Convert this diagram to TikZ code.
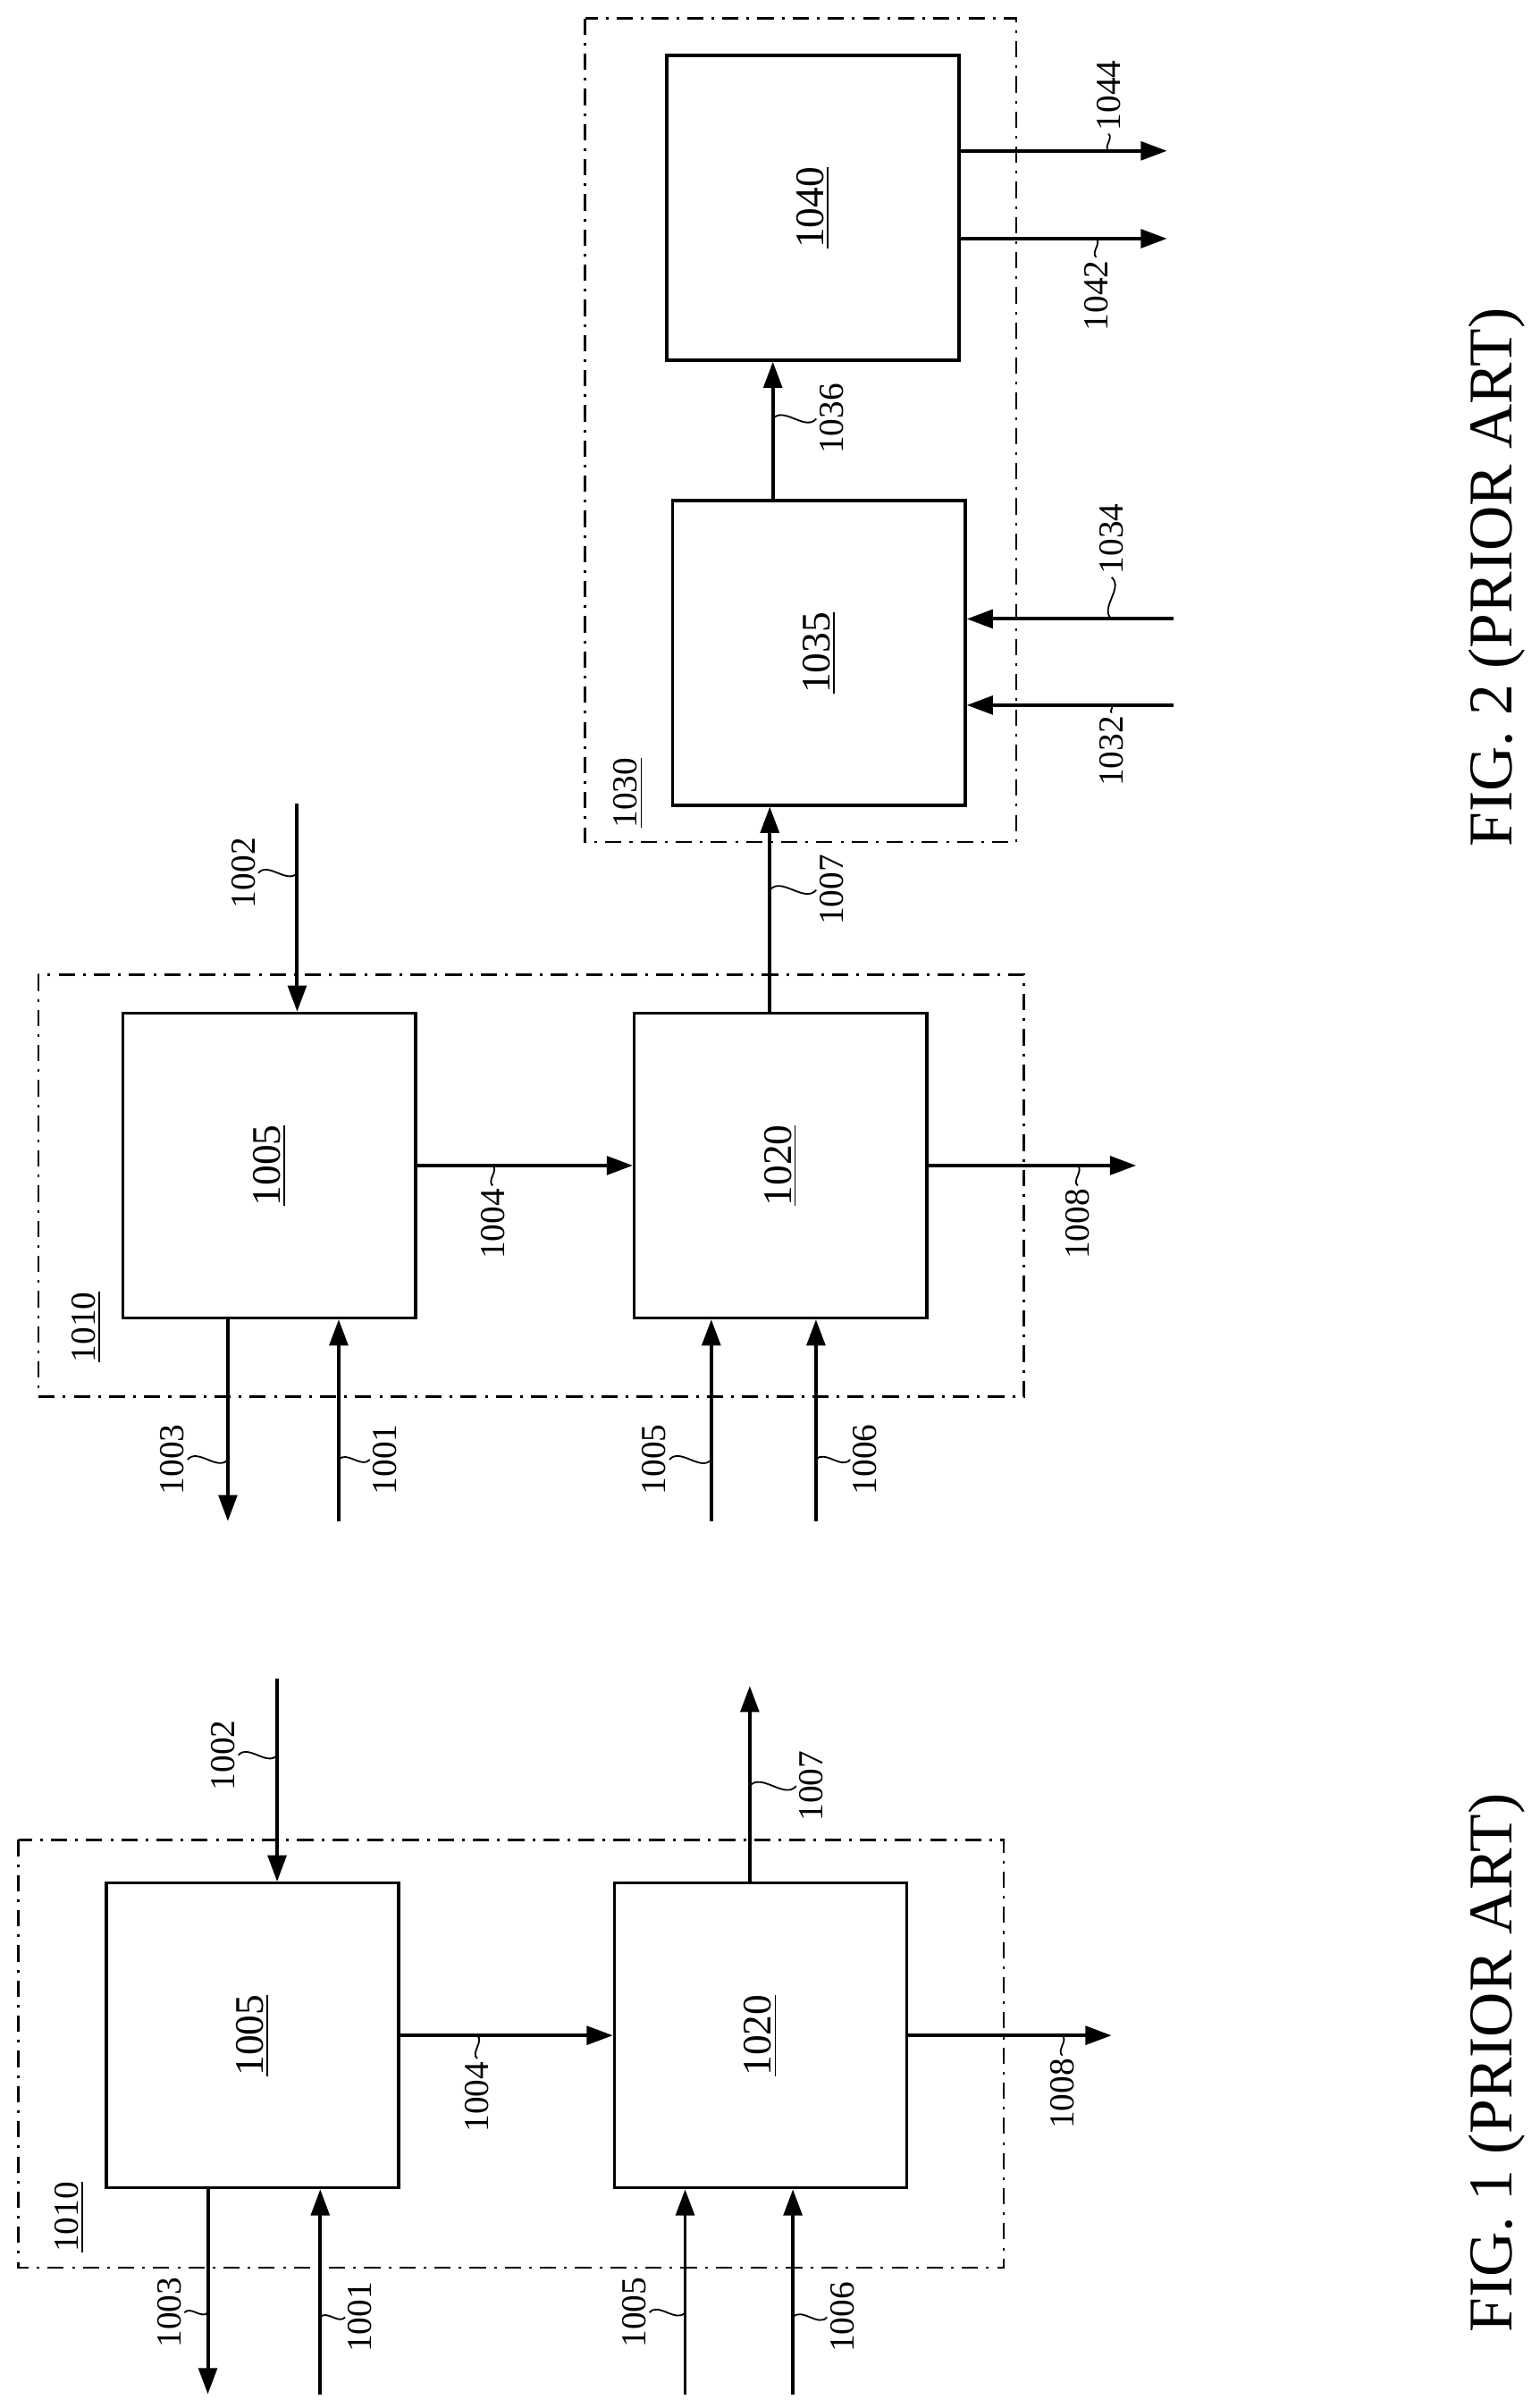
\documentclass[tikz,border=0pt]{standalone}
\usepackage{fontspec}
\setmainfont{Liberation Serif}
\usetikzlibrary{arrows.meta}

\begin{document}
\begin{tikzpicture}[x=0.02cm, y=-0.02cm,
  box/.style={draw, line width=1.1pt, minimum width=3.8cm, minimum height=3.96cm},
  grp/.style={draw, dash pattern=on 6pt off 3pt on 1pt off 3pt, line width=0.8pt},
  arr/.style={-{Triangle[length=3.4mm,width=2.4mm]}, line width=1.3pt},
  num/.style={rotate=90, inner sep=1pt, font=\fontsize{13}{13}\selectfont},
  blk/.style={rotate=90, font=\fontsize{15}{15}\selectfont},
  lead/.style={line width=0.6pt, relative, out=50, in=230},
  figcap/.style={rotate=90, font=\fontsize{23}{23}\selectfont}
]
\useasboundingbox (0,0) rectangle (1000,1564);

% FIG. 1
\draw[grp] (12,1195) rectangle (652,1473);
\node[box] (f1a) at (164,1322) {};
\node[box] (f1b) at (494,1322) {};
\node[blk] at (f1a) {\underline{1005}};
\node[blk] at (f1b) {\underline{1020}};
\node[num] at (45,1440) {\underline{1010}};

\coordinate (f1i2) at (180,1090);
\coordinate (f1o3) at (135,1555);
\coordinate (f1i1) at (208,1555);
\coordinate (f1i5) at (445,1555);
\coordinate (f1i6) at (515,1555);
\coordinate (f1o7) at (487,1095);
\coordinate (f1o8) at (722,1322);

\draw[arr] (f1i2) -- (f1i2 |- f1a.north);
\draw[arr] (f1a.east) -- (f1b.west);
\draw[arr] (f1o7 |- f1b.north) -- (f1o7);
\draw[arr] (f1b.east) -- (f1o8);
\draw[arr] (f1o3 |- f1a.south) -- (f1o3);
\draw[arr] (f1i1) -- (f1i1 |- f1a.south);
\draw[arr] (f1i5) -- (f1i5 |- f1b.south);
\draw[arr] (f1i6) -- (f1i6 |- f1b.south);

\node[num] (a1002) at (145,1140) {1002};
\node[num] (a1004) at (310,1362) {1004};
\node[num] (a1007) at (527,1160) {1007};
\node[num] (a1008) at (690,1360) {1008};
\node[num] (a1003) at (110,1502) {1003};
\node[num] (a1001) at (234,1505) {1001};
\node[num] (a1005) at (412,1502) {1005};
\node[num] (a1006) at (547,1505) {1006};
\draw[lead] (a1002.south) to (a1002.south -| f1i2);
\draw[lead] (a1004.east) to (a1004.east |- f1a.east);
\draw[lead] (a1007.north) to (a1007.north -| f1o7);
\draw[lead] (a1008.east) to (a1008.east |- f1o8);
\draw[lead] (a1003.south) to (a1003.south -| f1o3);
\draw[lead] (a1001.north) to (a1001.north -| f1i1);
\draw[lead] (a1005.south) to (a1005.south -| f1i5);
\draw[lead] (a1006.north) to (a1006.north -| f1i6);

\node[figcap] at (972,1340) {FIG. 1 (PRIOR ART)};

% FIG. 2
\draw[grp] (25,633) rectangle (665,907);
\draw[grp] (380,12) rectangle (660,547);
\node[box] (f2a) at (175,757) {};
\node[box] (f2b) at (507,757) {};
\node[box] (f2c) at (532,424) {};
\node[box] (f2d) at (528,135) {};
\node[blk] at (f2a) {\underline{1005}};
\node[blk] at (f2b) {\underline{1020}};
\node[blk] at (f2c) {\underline{1035}};
\node[blk] at (f2d) {\underline{1040}};
\node[num] at (56,862) {\underline{1010}};
\node[num] at (408,515) {\underline{1030}};

\coordinate (f2i2) at (193,522);
\coordinate (f2o3) at (148,988);
\coordinate (f2i1) at (220,988);
\coordinate (f2i5) at (462,988);
\coordinate (f2i6) at (530,988);
\coordinate (f2o7) at (500,600);
\coordinate (f2o8) at (738,757);
\coordinate (f2i4) at (762,402);
\coordinate (f2i2b) at (762,458);
\coordinate (f2o44) at (758,98);
\coordinate (f2o42) at (758,155);
\coordinate (f2m) at (502,300);

\draw[arr] (f2i2) -- (f2i2 |- f2a.north);
\draw[arr] (f2a.east) -- (f2b.west);
\draw[arr] (f2b.east) -- (f2o8);
\draw[arr] (f2o7 |- f2b.north) -- (f2o7 |- f2c.south);
\draw[arr] (f2o3 |- f2a.south) -- (f2o3);
\draw[arr] (f2i1) -- (f2i1 |- f2a.south);
\draw[arr] (f2i5) -- (f2i5 |- f2b.south);
\draw[arr] (f2i6) -- (f2i6 |- f2b.south);
\draw[arr] (f2m |- f2c.north) -- (f2m |- f2d.south);
\draw[arr] (f2i4) -- (f2i4 -| f2c.east);
\draw[arr] (f2i2b) -- (f2i2b -| f2c.east);
\draw[arr] (f2o44 -| f2d.east) -- (f2o44);
\draw[arr] (f2o42 -| f2d.east) -- (f2o42);

\node[num] (b1002) at (158,567) {1002};
\node[num] (b1004) at (320,795) {1004};
\node[num] (b1008) at (700,795) {1008};
\node[num] (b1007) at (540,578) {1007};
\node[num] (b1003) at (112,948) {1003};
\node[num] (b1001) at (250,948) {1001};
\node[num] (b1005) at (425,948) {1005};
\node[num] (b1006) at (562,948) {1006};
\node[num] (b1036) at (540,272) {1036};
\node[num] (b1034) at (722,350) {1034};
\node[num] (b1032) at (722,488) {1032};
\node[num] (b1044) at (720,62) {1044};
\node[num] (b1042) at (712,192) {1042};
\draw[lead] (b1002.south) to (b1002.south -| f2i2);
\draw[lead] (b1004.east) to (b1004.east |- f2a.east);
\draw[lead] (b1008.east) to (b1008.east |- f2o8);
\draw[lead] (b1007.north) to (b1007.north -| f2o7);
\draw[lead] (b1003.south) to (b1003.south -| f2o3);
\draw[lead] (b1001.north) to (b1001.north -| f2i1);
\draw[lead] (b1005.south) to (b1005.south -| f2i5);
\draw[lead] (b1006.north) to (b1006.north -| f2i6);
\draw[lead] (b1036.north) to (b1036.north -| f2m);
\draw[lead] (b1034.west) to (b1034.west |- f2i4);
\draw[lead] (b1032.east) to (b1032.east |- f2i2b);
\draw[lead] (b1044.west) to (b1044.west |- f2o44);
\draw[lead] (b1042.east) to (b1042.east |- f2o42);

\node[figcap] at (972,375) {FIG. 2 (PRIOR ART)};
\end{tikzpicture}
\end{document}
